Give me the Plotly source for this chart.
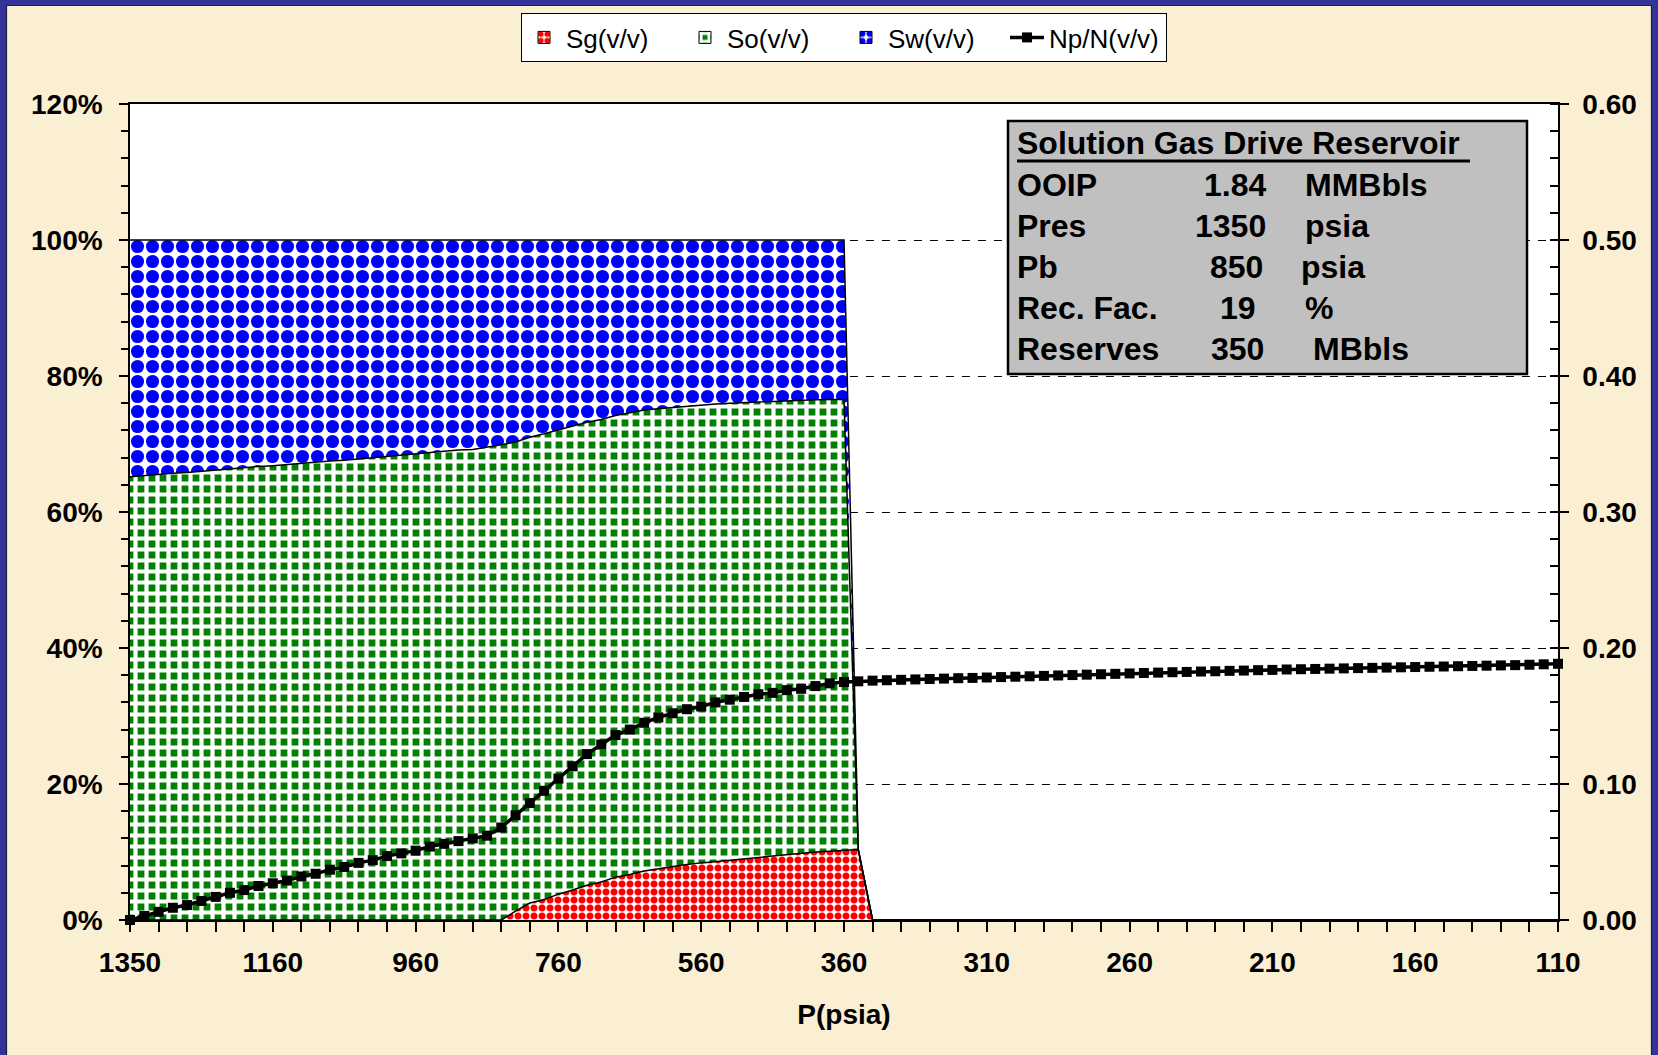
import plotly.graph_objects as go

# ---------------- data ----------------
pressure = [1350, 1340, 1320, 1300, 1280, 1260, 1240, 1220, 1200, 1180,
            1160, 1140, 1120, 1100, 1080, 1060, 1040, 1020, 1000, 980,
            960, 940, 920, 900, 880, 860, 840, 820, 800, 780,
            760, 740, 720, 700, 680, 660, 640, 620, 600, 580,
            560, 540, 520, 500, 480, 460, 440, 420, 400, 380,
            360, 355, 350, 345, 340, 335, 330, 325, 320, 315,
            310, 305, 300, 295, 290, 285, 280, 275, 270, 265,
            260, 255, 250, 245, 240, 235, 230, 225, 220, 215,
            210, 205, 200, 195, 190, 185, 180, 175, 170, 165,
            160, 155, 150, 145, 140, 135, 130, 125, 120, 115,
            110]

sg = [0, 0, 0, 0, 0, 0, 0, 0, 0, 0,
      0, 0, 0, 0, 0, 0, 0, 0, 0, 0,
      0, 0, 0, 0, 0, 0, 0, 0.013, 0.025, 0.030,
      0.038, 0.044, 0.051, 0.056, 0.063, 0.067, 0.072, 0.0755, 0.079, 0.0815,
      0.084, 0.086, 0.0888, 0.091, 0.093, 0.095, 0.097, 0.0985, 0.100, 0.101,
      0.1025, 0.1035, 0, 0, 0, 0, 0, 0, 0, 0,
      0, 0, 0, 0, 0, 0, 0, 0, 0, 0,
      0, 0, 0, 0, 0, 0, 0, 0, 0, 0,
      0, 0, 0, 0, 0, 0, 0, 0, 0, 0,
      0, 0, 0, 0, 0, 0, 0, 0, 0, 0,
      0]

so = [0.652, 0.654, 0.655, 0.657, 0.658, 0.660, 0.662, 0.663, 0.665, 0.667,
      0.668, 0.670, 0.671, 0.673, 0.675, 0.676, 0.678, 0.680, 0.682, 0.684,
      0.686, 0.687, 0.689, 0.691, 0.692, 0.695, 0.699, 0.690, 0.685, 0.685,
      0.683, 0.683, 0.681, 0.680, 0.679, 0.679, 0.678, 0.6765, 0.675, 0.674,
      0.673, 0.673, 0.6712, 0.670, 0.669, 0.668, 0.667, 0.6665, 0.665, 0.6645,
      0.663, 0, 0, 0, 0, 0, 0, 0, 0, 0,
      0, 0, 0, 0, 0, 0, 0, 0, 0, 0,
      0, 0, 0, 0, 0, 0, 0, 0, 0, 0,
      0, 0, 0, 0, 0, 0, 0, 0, 0, 0,
      0, 0, 0, 0, 0, 0, 0, 0, 0, 0,
      0]

sw = [0.348, 0.346, 0.345, 0.343, 0.342, 0.340, 0.338, 0.337, 0.335, 0.333,
      0.332, 0.330, 0.329, 0.327, 0.325, 0.324, 0.322, 0.320, 0.318, 0.316,
      0.314, 0.313, 0.311, 0.309, 0.308, 0.305, 0.301, 0.297, 0.290, 0.285,
      0.279, 0.273, 0.268, 0.264, 0.258, 0.254, 0.250, 0.248, 0.246, 0.2445,
      0.243, 0.241, 0.240, 0.239, 0.238, 0.237, 0.236, 0.235, 0.235, 0.2345,
      0.2345, 0, 0, 0, 0, 0, 0, 0, 0, 0,
      0, 0, 0, 0, 0, 0, 0, 0, 0, 0,
      0, 0, 0, 0, 0, 0, 0, 0, 0, 0,
      0, 0, 0, 0, 0, 0, 0, 0, 0, 0,
      0, 0, 0, 0, 0, 0, 0, 0, 0, 0,
      0]

np_n = [0.000, 0.003, 0.006, 0.009, 0.011, 0.014, 0.017, 0.020, 0.022, 0.025,
        0.027, 0.029, 0.032, 0.034, 0.037, 0.039, 0.042, 0.044, 0.047, 0.049,
        0.051, 0.054, 0.056, 0.058, 0.060, 0.062, 0.068, 0.077, 0.086, 0.095,
        0.104, 0.113, 0.122, 0.129, 0.136, 0.140, 0.145, 0.149, 0.152, 0.155,
        0.157, 0.160, 0.162, 0.164, 0.166, 0.167, 0.169, 0.170, 0.172, 0.174,
        0.175, 0.1755, 0.176, 0.1763, 0.1766, 0.1769, 0.1772, 0.1775, 0.1778, 0.1780,
        0.1783, 0.1786, 0.1789, 0.1792, 0.1795, 0.1798, 0.1801, 0.1804, 0.1807, 0.1810,
        0.1813, 0.1816, 0.1819, 0.1822, 0.1824, 0.1827, 0.1829, 0.1832, 0.1834, 0.1837,
        0.1839, 0.1842, 0.1844, 0.1846, 0.1848, 0.1850, 0.1852, 0.1854, 0.1856, 0.1858,
        0.1860, 0.1862, 0.1864, 0.1866, 0.1868, 0.1870, 0.1872, 0.1874, 0.1877, 0.1880,
        0.1884]

tick_labels = ["1350", "1160", "960", "760", "560", "360",
               "310", "260", "210", "160", "110"]

info_title = "Solution Gas Drive Reservoir"
info_names = ["OOIP", "Pres", "Pb", "Rec. Fac.", "Reserves"]
info_values = ["1.84", "1350", "850", "19", "350"]
info_units = ["MMBbls", "psia", "psia", "%", "MBbls"]

# ---------------- layout geometry ----------------
FONT = "Liberation Sans, Arial, sans-serif"
L, T, W, H = 130, 104, 1428, 816
FW, FH = 1658, 1055


def px(x):
    return (x - L) / W


def py(y):
    return (T + H - y) / H


x_idx = list(range(len(pressure)))
tick_pos = [pressure.index(int(t)) for t in tick_labels]

pat_sg = dict(shape=".", fgcolor="#FF0000", bgcolor="white", size=8,
              solidity=0.6, fgopacity=1)
pat_so = dict(shape="+", fgcolor="white", bgcolor="#008000", size=11,
              solidity=0.62, fgopacity=1)
pat_sw = dict(shape=".", fgcolor="#0000FF", bgcolor="white", size=15,
              solidity=0.6, fgopacity=1)

series = [("Sg(v/v)", sg, pat_sg), ("So(v/v)", so, pat_so), ("Sw(v/v)", sw, pat_sw)]

fig = go.Figure()

for name, vals, pat in series:
    fig.add_trace(go.Scatter(
        x=x_idx, y=vals, name=name, mode="lines", stackgroup="one",
        line=dict(color="black", width=1.5), fillpattern=pat,
        showlegend=False, legendgroup=name, hoverinfo="skip"))

# legend swatches (patterned boxes) for the area series
for name, vals, pat in series:
    fig.add_trace(go.Bar(
        x=[None], y=[None], name=name, legendgroup=name,
        marker=dict(color="white", pattern=pat, line=dict(color="black", width=1)),
        hoverinfo="skip"))

fig.add_trace(go.Scatter(
    x=x_idx, y=np_n, name="Np/N(v/v)", mode="lines+markers", yaxis="y2",
    line=dict(color="black", width=3.5),
    marker=dict(symbol="square", size=10, color="black"),
    cliponaxis=False, hoverinfo="skip"))

tick_font = dict(family=FONT, size=28, color="black", weight="bold")

fig.update_layout(
    width=FW, height=FH,
    margin=dict(l=L, r=FW - L - W, t=T, b=FH - T - H, pad=0),
    paper_bgcolor="#FAEED3",
    plot_bgcolor="white",
    showlegend=True,
    legend=dict(orientation="h", x=0.5, xanchor="center",
                y=py(13), yanchor="top",
                bgcolor="white", bordercolor="black", borderwidth=1,
                font=dict(family=FONT, size=26, color="black"),
                itemwidth=34, entrywidth=112, entrywidthmode="pixels",
                traceorder="normal"),
    xaxis=dict(range=[0, len(pressure) - 1], tickmode="array",
               tickvals=tick_pos, ticktext=tick_labels,
               ticks="outside", ticklen=10, tickwidth=1.5, tickcolor="black",
               minor=dict(tickmode="linear", tick0=0, dtick=2,
                          ticks="outside", ticklen=10, tickwidth=1.5,
                          tickcolor="black"),
               showline=True, linecolor="black", linewidth=1.5, mirror=True,
               showgrid=False, zeroline=False,
               tickfont=tick_font, ticklabelstandoff=7,
               title=dict(text="P(psia)", font=tick_font, standoff=27)),
    yaxis=dict(range=[0, 1.2], dtick=0.2, tickformat=".0%",
               ticks="outside", ticklen=9, tickwidth=1.5, tickcolor="black",
               minor=dict(dtick=0.04, ticks="outside", ticklen=7, tickwidth=1.5,
                          tickcolor="black", showgrid=False),
               showline=True, linecolor="black", linewidth=1.5,
               showgrid=True, gridcolor="black", gridwidth=1, griddash="8px,8px",
               zeroline=False, tickfont=tick_font, ticklabelstandoff=11),
    yaxis2=dict(range=[0, 0.6], dtick=0.1, tickformat=".2f", overlaying="y",
                side="right",
                ticks="outside", ticklen=9, tickwidth=1.5, tickcolor="black",
                minor=dict(dtick=0.02, ticks="inside", ticklen=8, tickwidth=1.5,
                           tickcolor="black", showgrid=False),
                showline=True, linecolor="black", linewidth=1.5,
                showgrid=False, zeroline=False, tickfont=tick_font,
                ticklabelstandoff=8),
)

shapes = []
frame_blue = "#333399"
shapes.append(dict(type="rect", xref="paper", yref="paper", x0=px(0), x1=px(6),
                   y0=py(FH), y1=py(0), fillcolor=frame_blue, line=dict(width=0), layer="below"))
shapes.append(dict(type="rect", xref="paper", yref="paper", x0=px(0), x1=px(FW),
                   y0=py(5), y1=py(0), fillcolor=frame_blue, line=dict(width=0), layer="below"))
shapes.append(dict(type="rect", xref="paper", yref="paper", x0=px(FW - 6), x1=px(FW),
                   y0=py(FH), y1=py(0), fillcolor=frame_blue, line=dict(width=0), layer="below"))
shapes.append(dict(type="path", xref="paper", yref="paper",
                   path="M {} {} L {} {} L {} {} L {} {}".format(
                       px(6.5), py(FH), px(6.5), py(5.5), px(FW - 6.5), py(5.5),
                       px(FW - 6.5), py(FH)),
                   line=dict(color="#1c1c40", width=1.2), layer="below"))
# info box
shapes.append(dict(type="rect", xref="paper", yref="paper",
                   x0=px(1008), x1=px(1527), y0=py(374), y1=py(121),
                   fillcolor="#C0C0C0", line=dict(color="black", width=2.5)))
shapes.append(dict(type="line", xref="paper", yref="paper",
                   x0=px(1017), x1=px(1470), y0=py(161), y1=py(161),
                   line=dict(color="black", width=3)))
fig.update_layout(shapes=shapes)

box_font = dict(family=FONT, size=32, color="black", weight="bold")
anns = [dict(text=info_title, xref="paper", yref="paper", x=px(1015), y=py(143),
             xanchor="left", yanchor="middle", showarrow=False, font=box_font)]
row_y = [185, 226, 267, 308, 349]
val_x = [1235, 1230, 1236, 1238, 1237]
unit_x = [1303, 1303, 1299, 1303, 1311]
for i in range(len(info_names)):
    anns.append(dict(text=info_names[i], xref="paper", yref="paper", x=px(1015),
                     y=py(row_y[i]), xanchor="left", yanchor="middle",
                     showarrow=False, font=box_font))
    anns.append(dict(text=info_values[i], xref="paper", yref="paper", x=px(val_x[i]),
                     y=py(row_y[i]), xanchor="center", yanchor="middle",
                     showarrow=False, font=box_font))
    anns.append(dict(text=info_units[i], xref="paper", yref="paper", x=px(unit_x[i]),
                     y=py(row_y[i]), xanchor="left", yanchor="middle",
                     showarrow=False, font=box_font))
fig.update_layout(annotations=anns)

fig.write_html("out.html")
